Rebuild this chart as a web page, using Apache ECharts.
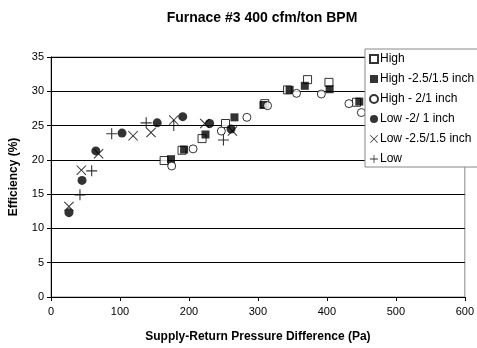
<!DOCTYPE html>
<html><head><meta charset="utf-8">
<script src="https://cdn.jsdelivr.net/npm/echarts@6/dist/echarts.min.js"></script>
<style>html,body{margin:0;padding:0;background:#fff}#c{width:477px;height:348px}</style>
</head><body><div id="c"></div>
<script>
var seriesNames = ['High', 'High -2.5/1.5 inch', 'High - 2/1 inch', 'Low -2/ 1 inch', 'Low -2.5/1.5 inch', 'Low'];
var high = [[164,19.9],[190,21.4],[219,23.1],[253,25.3],[310,28.2],[343,30.2],[372,31.7],[403,31.3],[443,28.4]];
var high25 = [[174,20.1],[193,21.5],[224,23.7],[266,26.2],[308,28.0],[346,30.2],[368,30.8],[404,30.3],[447,28.5]];
var high21 = [[175,19.1],[206,21.6],[247,24.2],[284,26.2],[314,27.9],[356,29.7],[392,29.6],[432,28.2],[450,26.9]];
var low21 = [[26,12.3],[45,17.0],[65,21.3],[103,23.9],[154,25.4],[191,26.3],[230,25.3],[261,24.5]];
var low25 = [[26,13.2],[44,18.5],[69,20.9],[119,23.5],[145,24.0],[178,25.8],[223,25.3],[263,24.2]];
var low = [[42,14.9],[59,18.4],[88,23.8],[138,25.4],[178,25.0],[250,22.9]];
var xTicks = [0,100,200,300,400,500,600];
var yTicks = [0,5,10,15,20,25,30,35];

var PLUS = 'path://M4.5,0 H5.5 V4.5 H10 V5.5 H5.5 V10 H4.5 V5.5 H0 V4.5 H4.5 Z';
var CROSS = 'path://M0.7,0 L5,4.3 L9.3,0 L10,0.7 L5.7,5 L10,9.3 L9.3,10 L5,5.7 L0.7,10 L0,9.3 L4.3,5 L0,0.7 Z';
var FONT = 'Liberation Sans';
function s(name, data, symbol, size, fill) {
  return {
    name: name, type: 'scatter', data: data, symbol: symbol, symbolSize: size,
    itemStyle: { color: fill, borderColor: '#000', borderWidth: (fill === '#fff') ? 1 : 0 },
    emphasis: { disabled: true }
  };
}
var chart = echarts.init(document.getElementById('c'), null, { renderer: 'canvas' });
chart.setOption({
  animation: false,
  backgroundColor: '#fff',
  title: {
    text: 'Furnace #3 400 cfm/ton BPM', left: 257, top: 6, textAlign: 'center',
    textStyle: { fontFamily: FONT, fontSize: 14, fontWeight: 'bold', color: '#000' }
  },
  grid: { left: 48, right: 12, top: 57, bottom: 51, show: true, borderColor: '#888', borderWidth: 1, backgroundColor: 'transparent' },
  legend: {
    orient: 'vertical', left: 365, top: 49, itemWidth: 8, itemHeight: 8, itemGap: 8,
    backgroundColor: '#fff', borderColor: '#888', borderWidth: 1, borderRadius: 0,
    padding: [4, 20, 2, 4],
    textStyle: { fontFamily: FONT, fontSize: 12, color: '#000', padding: [0, 0, 0, -3] },
    data: seriesNames
  },
  xAxis: {
    type: 'value', min: xTicks[0], max: xTicks[xTicks.length - 1], interval: 100,
    name: 'Supply-Return Pressure Difference (Pa)', nameLocation: 'middle', nameGap: 34,
    nameTextStyle: { fontFamily: FONT, fontSize: 12, fontWeight: 'bold', color: '#000' },
    axisLine: { lineStyle: { color: '#000', width: 1 } },
    axisTick: { show: true, length: 4, lineStyle: { color: '#000' } },
    axisLabel: { fontFamily: FONT, fontSize: 11, color: '#000', margin: 9 },
    splitLine: { show: false }
  },
  yAxis: {
    type: 'value', min: yTicks[0], max: yTicks[yTicks.length - 1], interval: 5,
    name: 'Efficiency (%)', nameLocation: 'middle', nameGap: 31,
    nameTextStyle: { fontFamily: FONT, fontSize: 12, fontWeight: 'bold', color: '#000' },
    axisLine: { show: true, lineStyle: { color: '#000', width: 1 } },
    axisTick: { show: true, length: 4, lineStyle: { color: '#000' } },
    axisLabel: { fontFamily: FONT, fontSize: 11, color: '#000', margin: 7 },
    splitLine: { show: true, lineStyle: { color: '#000', width: 1 } }
  },
  series: [
    s(seriesNames[0], high, 'rect', 8, '#fff'),
    s(seriesNames[1], high25, 'rect', 8, '#000'),
    s(seriesNames[2], high21, 'circle', 8, '#fff'),
    s(seriesNames[3], low21, 'circle', 9, '#000'),
    s(seriesNames[4], low25, CROSS, 10, '#000'),
    s(seriesNames[5], low, PLUS, 11, '#000')
  ]
});
</script></body></html>
